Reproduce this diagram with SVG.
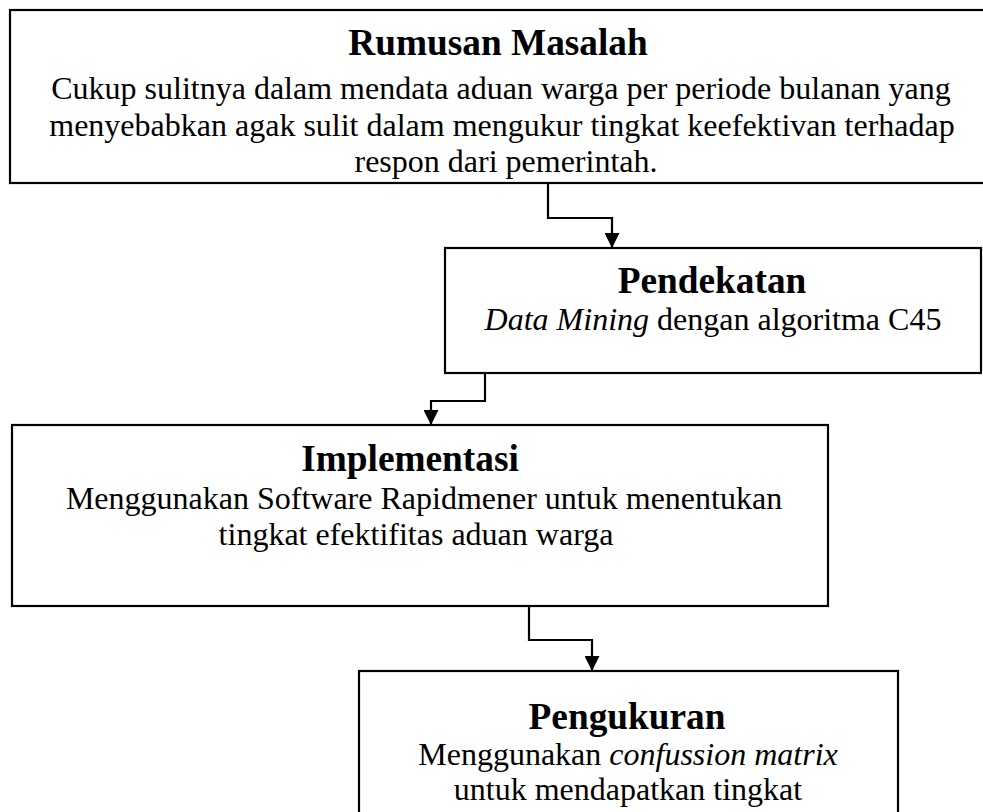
<svg xmlns="http://www.w3.org/2000/svg" width="983" height="812" viewBox="0 0 983 812">
<style>
.box{fill:#fff;stroke:#000;stroke-width:2.2}
.t{font-family:"Liberation Serif","Times New Roman",serif;font-weight:bold;font-size:37.3px;text-anchor:middle;fill:#000}
.b{font-family:"Liberation Serif","Times New Roman",serif;font-size:32px;text-anchor:middle;fill:#000}
.i{font-style:italic}
.c{fill:none;stroke:#000;stroke-width:2.2}
</style>
<defs>
<marker id="arr" viewBox="0 0 15 15" refX="15" refY="7.5" markerWidth="15" markerHeight="15" markerUnits="userSpaceOnUse" orient="auto">
<path d="M0,0 L15,7.5 L0,15 z" fill="#000"/>
</marker>
</defs>
<rect width="983" height="812" fill="#fff"/>
<g id="connectors">
<path class="c" d="M548,183 V218 H612 V248" marker-end="url(#arr)"/>
<path class="c" d="M485,373 V401 H431 V425" marker-end="url(#arr)"/>
<path class="c" d="M529,606 V640 H592 V671" marker-end="url(#arr)"/>
</g>
<g id="rumusan-masalah">
<rect class="box" x="10" y="10" width="976" height="173"/>
<text class="t" x="498" y="55">Rumusan Masalah</text>
<text class="b" x="501" y="99">Cukup sulitnya dalam mendata aduan warga per periode bulanan yang</text>
<text class="b" x="502" y="136">menyebabkan agak sulit dalam mengukur tingkat keefektivan terhadap</text>
<text class="b" x="506" y="172">respon dari pemerintah.</text>
</g>
<g id="pendekatan">
<rect class="box" x="445" y="248" width="536" height="125"/>
<text class="t" x="712" y="293">Pendekatan</text>
<text class="b" x="713" y="330"><tspan class="i">Data Mining</tspan> dengan algoritma C45</text>
</g>
<g id="implementasi">
<rect class="box" x="12" y="425" width="816" height="181"/>
<text class="t" x="410" y="471">Implementasi</text>
<text class="b" x="424" y="509">Menggunakan Software Rapidmener untuk menentukan</text>
<text class="b" x="416" y="545">tingkat efektifitas aduan warga</text>
</g>
<g id="pengukuran">
<rect class="box" x="359" y="671" width="539" height="160"/>
<text class="t" x="627" y="729">Pengukuran</text>
<text class="b" x="628" y="765">Menggunakan <tspan class="i">confussion matrix</tspan></text>
<text class="b" x="628" y="800">untuk mendapatkan tingkat</text>
</g>
</svg>
